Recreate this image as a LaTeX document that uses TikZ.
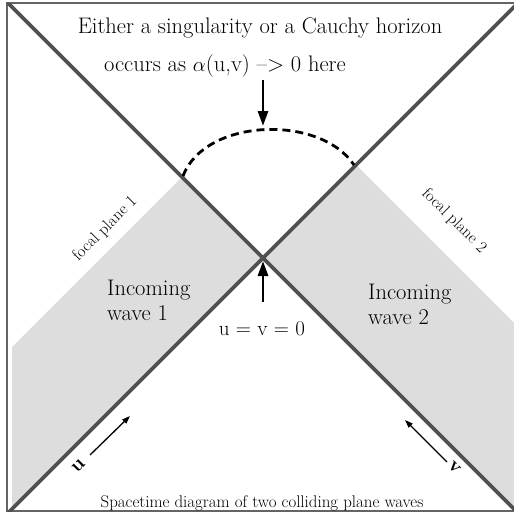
\documentclass[tikz,border=0pt]{standalone}
\usetikzlibrary{arrows.meta}
\definecolor{wavegray}{RGB}{221,221,221}
\definecolor{linegray}{RGB}{80,80,80}
\definecolor{framegray}{RGB}{100,100,100}
\tikzset{
  wave/.style={fill=wavegray, draw=none},
  worldline/.style={draw=linegray, line width=3.6pt},
  framebox/.style={draw=framegray, line width=1.2pt},
  bigarrow/.style={draw=black, line width=2.8pt, -{Triangle[length=15pt,width=10pt]}},
  smallarrow/.style={draw=black, line width=1.3pt, -{Triangle[length=8pt,width=5.5pt]}},
  horizon/.style={draw=black, line width=2.8pt, dash pattern=on 8pt off 5pt},
  bigtext/.style={font=\fontsize{22.5}{26}\selectfont, inner sep=0pt},
  midtext/.style={font=\fontsize{22.5}{26}\selectfont, inner sep=0pt},
  smalltext/.style={font=\fontsize{16.5}{19}\selectfont, inner sep=0pt},
  captext/.style={font=\fontsize{16.9}{20}\selectfont, inner sep=0pt},
  lettertext/.style={font=\fontsize{20}{24}\selectfont\bfseries, inner sep=0pt},
}
\begin{document}
\begin{tikzpicture}[x=1pt,y=-1pt]
\useasboundingbox (0,0) rectangle (514,514);
% incoming wave regions
\fill[wave] (182,177) -- (263,258) -- (12,509) -- (12,347) -- cycle;
\fill[wave] (356,165) -- (263,258) -- (514,509) -- (514,323) -- cycle;
% frame
\draw[framebox] (515,3) -- (7,3) -- (7,511) -- (515,511);
% null lines
\begin{scope}
\clip (7,3) rectangle (514,511);
\coordinate (tl) at (2,-3);
\coordinate (br) at (520,515);
\coordinate (bl) at (4,517);
\coordinate (tr) at (524,-3);
\draw[worldline] (tl) -- (br);
\draw[worldline] (bl) -- (tr);
\end{scope}
% dashed horizon
\coordinate (hl) at (183,176);
\coordinate (hr) at (354,165);
\draw[horizon] (hl) .. controls (205,118) and (320,114) .. (hr);
% top text
\node[bigtext, anchor=base] (t1) at (260,33) {Either a singularity or a Cauchy horizon};
\node[bigtext, anchor=base] (t2) at (225,71) {occurs as $\alpha$(u,v) {--}{>} 0 here};
\coordinate (a1s) at (263,80);
\coordinate (a1e) at (263,126);
\draw[bigarrow] (a1s) -- (a1e);
% origin
\coordinate (a2s) at (263,302);
\coordinate (a2e) at (263,261);
\draw[bigarrow] (a2s) -- (a2e);
\node[midtext, anchor=base, font=\fontsize{21}{25}\selectfont] (o) at (262,335) {u = v = 0};
% wave labels
\node[midtext, anchor=base west] (w1a) at (107,295) {Incoming};
\node[midtext, anchor=base west] (w1b) at (107,320) {wave 1};
\node[midtext, anchor=base west] (w2a) at (368,299) {Incoming};
\node[midtext, anchor=base west] (w2b) at (368,324) {wave 2};
% focal planes
\node[smalltext, rotate=45] (f1) at (105,229) {focal plane 1};
\node[smalltext, rotate=-45] (f2) at (454,221) {focal plane 2};
% u, v
\coordinate (us) at (90,455);
\coordinate (ue) at (130,416);
\draw[smallarrow] (us) -- (ue);
\node[lettertext, rotate=45] (ul) at (79,466) {u};
\coordinate (vs) at (447,462);
\coordinate (ve) at (405,420);
\draw[smallarrow] (vs) -- (ve);
\node[lettertext, rotate=-45] (vl) at (455,468) {v};
% caption
\node[captext, anchor=base] (cap) at (262,507) {Spacetime diagram of two colliding plane waves};
\end{tikzpicture}
\end{document}
